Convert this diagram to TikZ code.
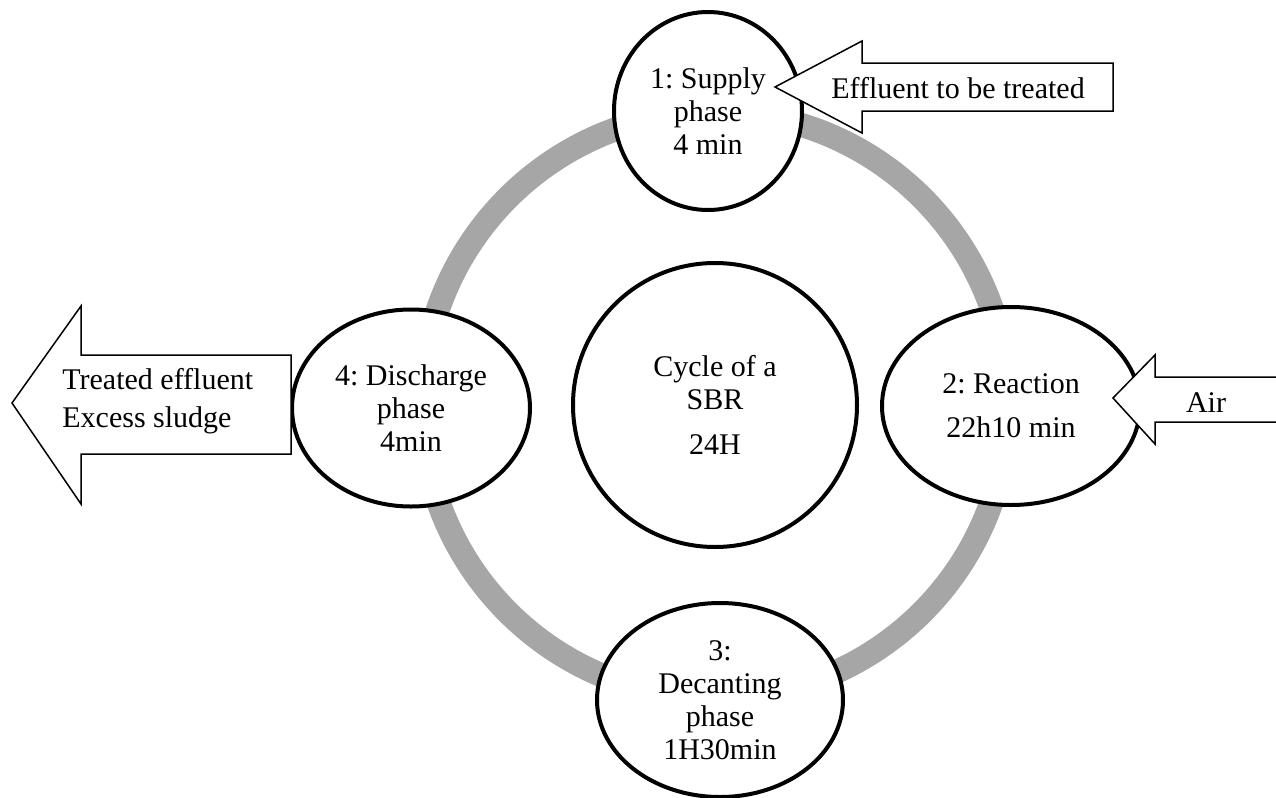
\documentclass[tikz,border=0pt]{standalone}
\usepackage{fontspec}
\setmainfont{Liberation Serif}
\usetikzlibrary{shapes.geometric}
\definecolor{ringgray}{HTML}{A6A6A6}
\frenchspacing
\begin{document}
\begin{tikzpicture}[x=0.5pt,y=-0.5pt,
  phase/.style={ellipse,draw=black,line width=2pt,fill=white,inner sep=0pt,align=center,
    font=\fontsize{15}{16.5}\selectfont},
  blockarrow/.style={draw=black,line width=0.75pt,fill=white,line join=miter},
  lbl/.style={inner sep=0pt,font=\fontsize{15}{16.5}\selectfont}]
\useasboundingbox (0,0) rectangle (1276,798);
% ring
\coordinate (c) at (715,405);
\draw[ringgray,line width=12pt] (c) circle[radius=146.5pt];
% phases
\node[phase,minimum width=94pt,minimum height=99pt] (supply) at (708,111) {1: Supply\\phase\\4 min};
\node[phase,minimum width=129pt,minimum height=99pt] (reaction) at (1011,406) {2: Reaction\\[5.5pt]22h10 min};
\node[phase,minimum width=123pt,minimum height=97pt] (decant) at (720,700) {3:\\Decanting\\phase\\1H30min};
\node[phase,minimum width=119pt,minimum height=98.5pt] (discharge) at (411,408) {4: Discharge\\phase\\4min};
\node[phase,circle,minimum size=142pt] (cycle) at (c) {Cycle of a\\SBR\\[6pt]24H};
% arrow: effluent in
\draw[blockarrow] (775,87) -- (862,41) -- (862,63) -- (1113,63) -- (1113,111) -- (862,111) -- (862,133) -- cycle;
\node[lbl] (effin) at (958,88) {Effluent to be treated};
% arrow: air in
\fill[white] (1113,398) -- (1155,355) -- (1155,377) -- (1280,377) -- (1280,422) -- (1155,422) -- (1155,444) -- cycle;
\draw[line width=0.75pt,line join=miter] (1280,377) -- (1155,377) -- (1155,355) -- (1113,398) -- (1155,444) -- (1155,422) -- (1280,422);
\node[lbl] (air) at (1206,403) {Air};
% arrow: out
\draw[blockarrow] (12,403) -- (81,306) -- (81,355) -- (291,355) -- (291,454) -- (81,454) -- (81,504) -- cycle;
\node[lbl,align=left,anchor=west] (out) at (62,401) {Treated effluent\\[2.5pt]Excess sludge};
\end{tikzpicture}
\end{document}
